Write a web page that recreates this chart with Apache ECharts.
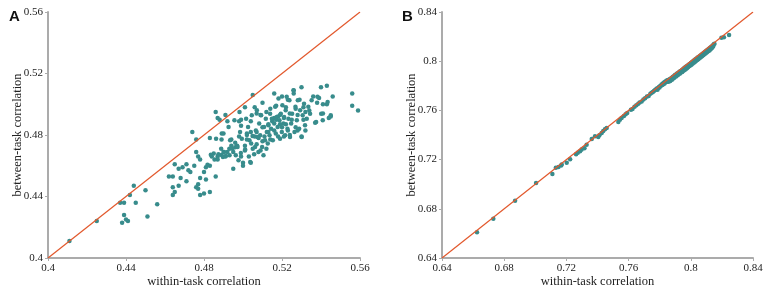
<!DOCTYPE html>
<html>
<head>
<meta charset="utf-8">
<script src="https://cdn.jsdelivr.net/npm/echarts@6/dist/echarts.min.js"></script>
<style>
  html, body { margin: 0; padding: 0; background: #fff; }
  #chart { width: 765px; height: 289px; }
</style>
</head>
<body>
<div id="chart"></div>
<script>
// panel A: within-task (x) vs between-task (y) correlation
const pointsA = [
    [0.411, 0.411], [0.425, 0.424], [0.437, 0.436], [0.439, 0.436], [0.442, 0.441],
    [0.444, 0.447], [0.445, 0.436], [0.450, 0.444], [0.451, 0.427], [0.439, 0.428],
    [0.438, 0.423], [0.440, 0.425], [0.441, 0.424],
    [0.456, 0.435], [0.464, 0.441], [0.465, 0.443], [0.464, 0.446], [0.467, 0.447],
    [0.462, 0.453], [0.464, 0.453], [0.468, 0.452], [0.465, 0.461], [0.467, 0.458],
    [0.469, 0.459], [0.471, 0.461], [0.472, 0.457], [0.471, 0.450], [0.473, 0.456],
    [0.475, 0.460], [0.476, 0.469], [0.477, 0.466], [0.478, 0.464], [0.478, 0.452],
    [0.477, 0.448], [0.476, 0.446], [0.477, 0.445], [0.478, 0.441], [0.480, 0.442],
    [0.483, 0.443], [0.480, 0.456], [0.481, 0.451], [0.481, 0.459], [0.483, 0.460],
    [0.486, 0.453], [0.474, 0.482], [0.476, 0.477], [0.483, 0.478], [0.486, 0.495],
    [0.487, 0.491], [0.488, 0.490], [0.489, 0.477], [0.490, 0.481], [0.491, 0.493],
    [0.492, 0.489], [0.484, 0.466], [0.485, 0.468], [0.487, 0.466], [0.487, 0.464],
    [0.489, 0.467], [0.490, 0.469], [0.491, 0.466], [0.492, 0.469], [0.493, 0.471],
    [0.494, 0.473], [0.494, 0.477], [0.495, 0.458], [0.495, 0.469], [0.496, 0.475],
    [0.496, 0.472], [0.497, 0.473], [0.498, 0.479], [0.498, 0.489], [0.499, 0.486],
    [0.499, 0.490], [0.499, 0.466], [0.500, 0.462], [0.500, 0.460], [0.501, 0.470],
    [0.501, 0.473], [0.501, 0.498], [0.502, 0.480], [0.502, 0.477], [0.503, 0.466],
    [0.504, 0.462], [0.504, 0.482], [0.504, 0.489], [0.505, 0.471], [0.505, 0.506],
    [0.506, 0.498], [0.506, 0.479], [0.507, 0.482], [0.507, 0.494], [0.507, 0.474],
    [0.508, 0.478], [0.509, 0.493], [0.509, 0.470], [0.510, 0.485], [0.510, 0.501],
    [0.510, 0.476], [0.511, 0.479], [0.512, 0.471], [0.512, 0.495], [0.513, 0.487],
    [0.513, 0.482], [0.514, 0.497], [0.514, 0.477], [0.515, 0.489], [0.516, 0.507],
    [0.516, 0.491], [0.516, 0.483], [0.517, 0.490], [0.517, 0.499], [0.518, 0.479],
    [0.518, 0.492], [0.519, 0.487], [0.519, 0.493], [0.520, 0.505], [0.520, 0.485],
    [0.521, 0.491], [0.521, 0.479], [0.522, 0.498], [0.522, 0.487], [0.523, 0.503],
    [0.523, 0.483], [0.524, 0.494], [0.524, 0.480], [0.525, 0.490], [0.526, 0.507],
    [0.526, 0.509], [0.527, 0.497], [0.527, 0.485], [0.528, 0.493], [0.528, 0.483],
    [0.529, 0.503], [0.530, 0.511], [0.530, 0.479], [0.531, 0.498], [0.531, 0.490],
    [0.532, 0.483], [0.532, 0.495], [0.534, 0.496], [0.536, 0.505], [0.537, 0.488],
    [0.538, 0.501], [0.539, 0.504], [0.540, 0.511], [0.541, 0.500], [0.541, 0.494],
    [0.543, 0.512], [0.543, 0.500], [0.544, 0.491], [0.545, 0.492], [0.546, 0.505],
    [0.556, 0.507], [0.556, 0.499], [0.559, 0.496],
    [0.4926, 0.4852], [0.4934, 0.4766], [0.4956, 0.4896], [0.4972, 0.4722], [0.4982, 0.4950],
    [0.4985, 0.4820], [0.4994, 0.4776], [0.5011, 0.4705], [0.5016, 0.4906], [0.5020, 0.4809],
    [0.5026, 0.4852], [0.5033, 0.4766], [0.5042, 0.4744], [0.5045, 0.4928], [0.5049, 0.4794],
    [0.5066, 0.4830], [0.5071, 0.4961], [0.5074, 0.4787], [0.5083, 0.4874], [0.5088, 0.4798],
    [0.5093, 0.4928], [0.5098, 0.4722], [0.5108, 0.4852], [0.5113, 0.4766], [0.5117, 0.4906],
    [0.5122, 0.4820], [0.5127, 0.4744], [0.5130, 0.4863], [0.5136, 0.4798], [0.5139, 0.4939],
    [0.5144, 0.4841], [0.5148, 0.4906], [0.5153, 0.4766], [0.5160, 0.4874], [0.5165, 0.4983],
    [0.5168, 0.4809], [0.5173, 0.4917], [0.5178, 0.4852], [0.5182, 0.5037], [0.5187, 0.4896],
    [0.5190, 0.4776], [0.5194, 0.4939], [0.5199, 0.4820], [0.5202, 0.4993], [0.5207, 0.4874],
    [0.5211, 0.4917], [0.5216, 0.4798], [0.5219, 0.4961], [0.5224, 0.5048], [0.5228, 0.4841],
    [0.5233, 0.4906], [0.5238, 0.5026], [0.5241, 0.4787], [0.5247, 0.4874], [0.5252, 0.4939],
    [0.5259, 0.5091], [0.5264, 0.4820], [0.5269, 0.4983], [0.5276, 0.4896], [0.5281, 0.5026],
    [0.5288, 0.4841], [0.5293, 0.4961], [0.5301, 0.4787], [0.5306, 0.4928], [0.5313, 0.5004],
    [0.5318, 0.4863], [0.5327, 0.4906], [0.5335, 0.4983], [0.5344, 0.4939], [0.5352, 0.5026],
    [0.5375, 0.4885], [0.5382, 0.5048], [0.5401, 0.4939], [0.5409, 0.4896], [0.5434, 0.5015],
    [0.5450, 0.4928],
    [0.4818, 0.4607], [0.4835, 0.4672], [0.4854, 0.4640], [0.4862, 0.4776], [0.4874, 0.4674],
    [0.4888, 0.4711], [0.4891, 0.4809], [0.4897, 0.4657], [0.4903, 0.4690], [0.4912, 0.4664],
    [0.4931, 0.4668], [0.4946, 0.4711], [0.4963, 0.4668], [0.4977, 0.4635], [0.4989, 0.4683],
    [0.5037, 0.4624], [0.5057, 0.4674], [0.5062, 0.4722], [0.5079, 0.4690], [0.5105, 0.4668]
];

// panel B
const pointsB = [
    [0.6625, 0.6610], [0.6730, 0.6720], [0.6870, 0.6866], [0.7005, 0.7010], [0.7110, 0.7083],
    [0.7132, 0.7134], [0.7149, 0.7140], [0.7166, 0.7153], [0.7170, 0.7160], [0.7202, 0.7175],
    [0.7224, 0.7202], [0.7262, 0.7243], [0.7273, 0.7256], [0.7288, 0.7267], [0.7298, 0.7283],
    [0.7316, 0.7293], [0.7330, 0.7321], [0.7363, 0.7367], [0.7384, 0.7389], [0.7405, 0.7384],
    [0.7412, 0.7397], [0.7427, 0.7416], [0.7437, 0.7432], [0.7448, 0.7446], [0.7459, 0.7457],
    [0.7534, 0.7506], [0.7544, 0.7525], [0.7555, 0.7538], [0.7570, 0.7554], [0.7581, 0.7568],
    [0.7591, 0.7579],
    [0.7615, 0.7606], [0.7625, 0.7612], [0.7638, 0.7630], [0.7650, 0.7641], [0.7662, 0.7655],
    [0.7671, 0.7664], [0.7684, 0.7672], [0.7695, 0.7688], [0.7706, 0.7699], [0.7718, 0.7712],
    [0.7729, 0.7718], [0.7740, 0.7736], [0.7748, 0.7744], [0.7756, 0.7749], [0.7763, 0.7758],
    [0.7770, 0.7766], [0.7777, 0.7772], [0.7782, 0.7779], [0.7786, 0.7768], [0.7790, 0.7783],
    [0.7795, 0.7791], [0.7799, 0.7786], [0.7803, 0.7798], [0.7808, 0.7800], [0.7812, 0.7810],
    [0.7816, 0.7806], [0.7820, 0.7818], [0.7824, 0.7812], [0.7828, 0.7826], [0.7831, 0.7819],
    [0.7835, 0.7832], [0.7839, 0.7828], [0.7843, 0.7841], [0.7846, 0.7833], [0.7850, 0.7845],
    [0.7854, 0.7845], [0.7857, 0.7832], [0.7861, 0.7852], [0.7865, 0.7853], [0.7868, 0.7840],
    [0.7872, 0.7860], [0.7876, 0.7862], [0.7879, 0.7850], [0.7883, 0.7872], [0.7887, 0.7860],
    [0.7890, 0.7878], [0.7894, 0.7865], [0.7898, 0.7885], [0.7901, 0.7889], [0.7905, 0.7876],
    [0.7909, 0.7896], [0.7912, 0.7900], [0.7916, 0.7886], [0.7920, 0.7907], [0.7923, 0.7895],
    [0.7927, 0.7914], [0.7931, 0.7900], [0.7934, 0.7921], [0.7938, 0.7910], [0.7942, 0.7926],
    [0.7945, 0.7913], [0.7949, 0.7935], [0.7953, 0.7922], [0.7956, 0.7942], [0.7960, 0.7929],
    [0.7964, 0.7950], [0.7967, 0.7935], [0.7971, 0.7957], [0.7975, 0.7943], [0.7978, 0.7964],
    [0.7982, 0.7951], [0.7986, 0.7972], [0.7989, 0.7958], [0.7993, 0.7978], [0.7997, 0.7966],
    [0.8000, 0.7985], [0.8004, 0.7972], [0.8008, 0.7993], [0.8011, 0.7980], [0.8015, 0.8000],
    [0.8019, 0.7987], [0.8022, 0.8007], [0.8026, 0.7994], [0.8030, 0.8015], [0.8033, 0.8001],
    [0.8037, 0.8022], [0.8041, 0.8009], [0.8044, 0.8030], [0.8048, 0.8016], [0.8052, 0.8037],
    [0.8056, 0.8024], [0.8060, 0.8045], [0.8064, 0.8032], [0.8068, 0.8053], [0.8072, 0.8040],
    [0.8076, 0.8061], [0.8080, 0.8048], [0.8084, 0.8069], [0.8088, 0.8056], [0.8092, 0.8077],
    [0.8096, 0.8064], [0.8100, 0.8085], [0.8104, 0.8072], [0.8108, 0.8093], [0.8112, 0.8080],
    [0.8116, 0.8101], [0.8120, 0.8088], [0.8124, 0.8110], [0.8128, 0.8097], [0.8132, 0.8118],
    [0.8136, 0.8108], [0.8140, 0.8128], [0.8144, 0.8120], [0.8148, 0.8137], [0.8152, 0.8142],
    [0.8197, 0.8191], [0.8213, 0.8195], [0.8246, 0.8214]
];

const diagA = [[0.4, 0.4], [0.56, 0.56]];
const diagB = [[0.64, 0.64], [0.84, 0.84]];

const rangeA = { min: 0.4, max: 0.56, interval: 0.04 };
const rangeB = { min: 0.64, max: 0.84, interval: 0.04 };

const POINT_COLOR = '#388c8c';
const LINE_COLOR = '#e2582c';
const AXIS_COLOR = '#ababab';
const SERIF = '"Liberation Serif", "DejaVu Serif", serif';

function valueAxis(gridIndex, range, isX) {
    return {
        type: 'value',
        gridIndex: gridIndex,
        min: range.min,
        max: range.max,
        interval: range.interval,
        name: isX ? 'within-task correlation' : 'between-task correlation',
        nameLocation: 'middle',
        nameGap: isX ? 17 : 24,
        nameMoveOverlap: false,
        nameTextStyle: { fontFamily: SERIF, fontSize: 12.5, color: '#222' },
        axisLine: { show: true, onZero: false, lineStyle: { color: AXIS_COLOR, width: 2 } },
        axisTick: { show: true, length: 3, lineStyle: { color: AXIS_COLOR, width: 1 } },
        axisLabel: {
            fontFamily: SERIF,
            fontSize: 11,
            color: '#222',
            margin: isX ? 5 : 5
        },
        splitLine: { show: false }
    };
}

const chart = echarts.init(document.getElementById('chart'), null, { renderer: 'canvas' });

const option = {
    animation: false,
    backgroundColor: '#fff',
    title: [
        { text: 'A', left: 4, top: 4, textStyle: { fontFamily: 'Arial, "Liberation Sans", sans-serif', fontWeight: 'bold', fontSize: 15, color: '#111' } },
        { text: 'B', left: 397, top: 4, textStyle: { fontFamily: 'Arial, "Liberation Sans", sans-serif', fontWeight: 'bold', fontSize: 15, color: '#111' } }
    ],
    grid: [
        { left: 48, top: 12, width: 312, height: 246, outerBoundsMode: 'none' },
        { left: 442, top: 12, width: 311, height: 246, outerBoundsMode: 'none' }
    ],
    xAxis: [valueAxis(0, rangeA, true), valueAxis(1, rangeB, true)],
    yAxis: [valueAxis(0, rangeA, false), valueAxis(1, rangeB, false)],
    series: [
        {
            type: 'scatter',
            xAxisIndex: 0, yAxisIndex: 0,
            symbolSize: 4.5,
            itemStyle: { color: POINT_COLOR, opacity: 1 },
            data: pointsA,
            z: 2
        },
        {
            type: 'line',
            xAxisIndex: 0, yAxisIndex: 0,
            data: diagA,
            symbol: 'none',
            lineStyle: { color: LINE_COLOR, width: 1.2 },
            z: 3
        },
        {
            type: 'scatter',
            xAxisIndex: 1, yAxisIndex: 1,
            symbolSize: 4.5,
            itemStyle: { color: POINT_COLOR, opacity: 1 },
            data: pointsB,
            z: 2
        },
        {
            type: 'line',
            xAxisIndex: 1, yAxisIndex: 1,
            data: diagB,
            symbol: 'none',
            lineStyle: { color: LINE_COLOR, width: 1.2 },
            z: 3
        }
    ]
};

chart.setOption(option);
</script>
</body>
</html>
